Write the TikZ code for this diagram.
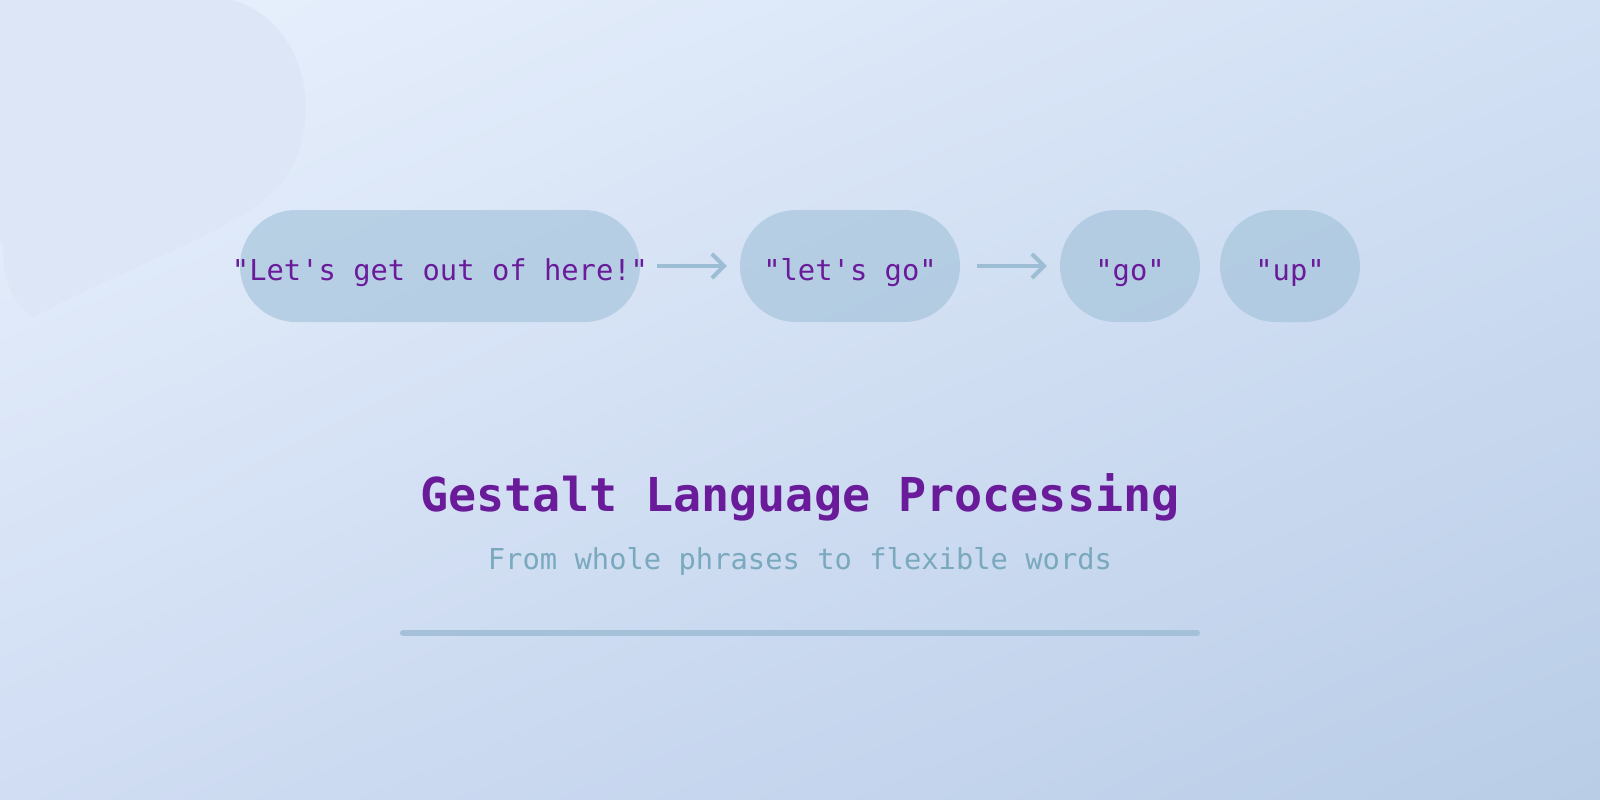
\documentclass[tikz,border=0pt]{standalone}
\usepackage{fontspec}
\setmonofont{DejaVu Sans Mono}
\usetikzlibrary{arrows.meta,shadings}
\definecolor{bgtopleft}{HTML}{E9F1FD}
\definecolor{bgtopright}{HTML}{D2E0F4}
\definecolor{bgbottomleft}{HTML}{D0DDF3}
\definecolor{bgbottomright}{HTML}{B9CDE7}
\definecolor{blobfill}{HTML}{DCE6F7}
\definecolor{pillfill}{HTML}{9FC0D8}
\definecolor{gestaltpurple}{HTML}{6A1B9A}
\definecolor{taglineblue}{HTML}{7AA9BE}
\definecolor{arrowblue}{HTML}{9DBDD4}
\definecolor{ruleblue}{HTML}{A4C1D9}
\tikzset{
  phrase/.style={fill=pillfill, fill opacity=0.6, text opacity=1, rounded corners=55.9pt,
    minimum height=112pt, inner sep=0pt, text=gestaltpurple, text height=28pt, text depth=0pt,
    font=\ttfamily\fontsize{28.8}{34}\selectfont},
  flowarrow/.style={draw=arrowblue, line width=4pt, -{Straight Barb[length=12pt,width=24pt]},
    shorten <=17pt, shorten >=13pt},
  heading/.style={anchor=base, inner sep=0pt, text=gestaltpurple,
    font=\ttfamily\bfseries\fontsize{46.7}{56}\selectfont},
  tagline/.style={anchor=base, inner sep=0pt, text=taglineblue,
    font=\ttfamily\fontsize{28.8}{34}\selectfont},
  underline/.style={draw=ruleblue, line width=6pt, line cap=round}
}
\begin{document}
\begin{tikzpicture}[x=1pt,y=-1pt]
  \useasboundingbox (0,0) rectangle (1600,800);
  \shade[upper left=bgtopleft, upper right=bgtopright, lower left=bgbottomleft, lower right=bgbottomright]
    (0,0) rectangle (1600,800);
  \fill[blobfill] (0,0) -- (232,0) .. controls (285,15) and (310,70) .. (305,120)
    .. controls (300,175) and (270,200) .. (230,222)
    .. controls (160,260) and (90,285) .. (33,318)
    .. controls (15,305) and (3,285) .. (3,245) -- (0,240) -- cycle;
  \foreach \name/\x/\w/\txt in {whole/440/400/"Let's get out of here!", letsgo/850/220/"let's go",
    go/1130/140/"go", up/1290/140/"up"}
  {
    \node[phrase, minimum width=\w pt] (\name) at (\x,266) {\makebox[0pt]{\txt}};
  }
  \draw[flowarrow] (whole.east) -- (letsgo.west);
  \draw[flowarrow] (letsgo.east) -- (go.west);
  \node[heading] (title) at (800,511) {Gestalt Language Processing};
  \node[tagline] (subtitle) at (800,569) {From whole phrases to flexible words};
  \coordinate (ruleleft) at (403,633);
  \coordinate (ruleright) at (1197,633);
  \draw[underline] (ruleleft) -- (ruleright);
\end{tikzpicture}
\end{document}
